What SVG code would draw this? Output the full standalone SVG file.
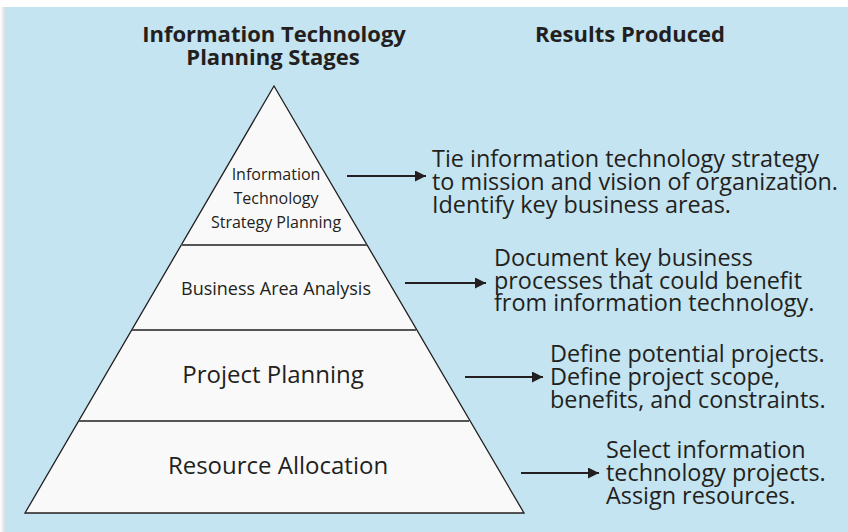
<svg xmlns="http://www.w3.org/2000/svg" width="848" height="532" viewBox="0 0 848 532">
<defs>
<linearGradient id="sh" x1="0" y1="0" x2="1" y2="0">
<stop offset="0" stop-color="#ffffff"/>
<stop offset="1" stop-color="#d6d6d6"/>
</linearGradient>
<marker id="ah" viewBox="0 0 10 10" refX="10" refY="5" markerWidth="5" markerHeight="5" orient="auto" markerUnits="strokeWidth">
<path d="M0,0 L10,5 L0,10 Z" fill="#231f20"/>
</marker>
<style>
.hd{font-family:"Open Sans","Liberation Sans",sans-serif;font-weight:bold;font-size:22px;fill:#231f20;text-anchor:middle}
.in{font-family:"Open Sans","Liberation Sans",sans-serif;fill:#231f20;text-anchor:middle}
.rs{font-family:"Open Sans","Liberation Sans",sans-serif;font-size:23.4px;fill:#231f20}
.ar{stroke:#231f20;stroke-width:2.2;fill:none;marker-end:url(#ah)}
.dv{stroke:#555;stroke-width:2}
</style>
</defs>
<rect x="0" y="0" width="848" height="532" fill="#ffffff"/>
<rect x="0" y="7" width="6" height="525" fill="url(#sh)"/>
<rect x="5" y="7" width="843" height="525" fill="#c3e4f0"/>
<g id="headers">
<text class="hd" x="274" y="42">Information Technology</text>
<text class="hd" x="273" y="65">Planning Stages</text>
<text class="hd" x="630" y="42">Results Produced</text>
</g>
<g id="pyramid">
<polygon points="274,86 524,513 25,513" fill="#f9f9f9" stroke="#231f20" stroke-width="1.3"/>
<line class="dv" x1="181" y1="245" x2="367" y2="245"/>
<line class="dv" x1="132" y1="330" x2="416" y2="330"/>
<line class="dv" x1="79" y1="421" x2="469" y2="421"/>
</g>
<g id="stage1">
<text class="in" x="276" y="180" font-size="16">Information</text>
<text class="in" x="276" y="204" font-size="16">Technology</text>
<text class="in" x="276" y="228" font-size="16">Strategy Planning</text>
</g>
<g id="stage2"><text class="in" x="276" y="295" font-size="18">Business Area Analysis</text></g>
<g id="stage3"><text class="in" x="273" y="383" font-size="24">Project Planning</text></g>
<g id="stage4"><text class="in" x="278" y="474" font-size="24">Resource Allocation</text></g>
<g id="connectors">
<line class="ar" x1="347" y1="176" x2="426" y2="176"/>
<line class="ar" x1="405" y1="283" x2="486" y2="283"/>
<line class="ar" x1="465" y1="377" x2="543" y2="377"/>
<line class="ar" x1="521" y1="473" x2="599" y2="473"/>
</g>
<g id="result1">
<text class="rs" x="432" y="167">Tie information technology strategy</text>
<text class="rs" x="432" y="190">to mission and vision of organization.</text>
<text class="rs" x="432" y="213">Identify key business areas.</text>
</g>
<g id="result2">
<text class="rs" x="494" y="266">Document key business</text>
<text class="rs" x="494" y="289">processes that could benefit</text>
<text class="rs" x="494" y="311">from information technology.</text>
</g>
<g id="result3">
<text class="rs" x="550" y="362">Define potential projects.</text>
<text class="rs" x="550" y="385">Define project scope,</text>
<text class="rs" x="550" y="408">benefits, and constraints.</text>
</g>
<g id="result4">
<text class="rs" x="606" y="458">Select information</text>
<text class="rs" x="606" y="481">technology projects.</text>
<text class="rs" x="606" y="504">Assign resources.</text>
</g>
</svg>
